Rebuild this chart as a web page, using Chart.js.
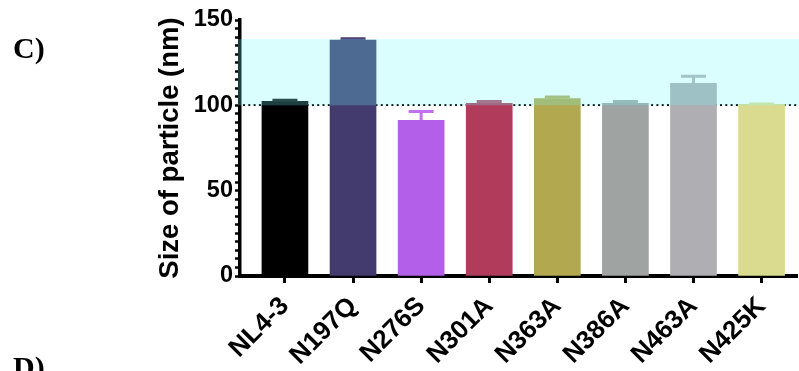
<!DOCTYPE html>
<html>
<head>
<meta charset="utf-8">
<script src="https://cdn.jsdelivr.net/npm/chart.js@4.4.1/dist/chart.umd.min.js"></script>
<style>
  html, body { margin: 0; padding: 0; background: #fff; overflow: hidden; }
  #wrap { position: relative; width: 799px; height: 371px; }
  #chart { position: absolute; left: 0; top: 0; }
  .panel { position: absolute; font-family: "Liberation Serif", "DejaVu Serif", serif;
           font-weight: bold; font-size: 30px; line-height: 30px; color: #000; }
</style>
</head>
<body>
<div id="wrap">
  <canvas id="chart" width="799" height="371"></canvas>
  <div class="panel" style="left:13px; top:33px;">C)</div>
  <div class="panel" style="left:13px; top:352px;">D)</div>
</div>
<script>
// Particle size per Env glycan mutant (mean with SEM, nm)
const categories = ['NL4-3', 'N197Q', 'N276S', 'N301A', 'N363A', 'N386A', 'N463A', 'N425K'];
const meanSize = [102.4, 138.2, 91.2, 101.2, 103.9, 101.2, 112.9, 100.6];
const semSize = [1.1, 1.4, 5.7, 1.6, 1.6, 1.6, 4.7, 0.8];
const yTickLabels = [0, 50, 100, 150];
const referenceSize = 100;
const rangeTop = 138.8;

const barColors = ['#000000', '#433a6e', '#b35fea', '#b13b5b', '#b2a84f', '#9fa3a2', '#afaeb3', '#dadb8e'];
const capColors = ['#111111', '#4a4078', '#c070f0', '#b54a68', '#b6ad5c', '#a3a7a7', '#b3b2b7', '#dde095'];

const FONT = '"Liberation Sans", Arial, sans-serif';

// dotted reference line, drawn behind the bars
const refLinePlugin = {
  id: 'refLine',
  beforeDatasetsDraw(chart) {
    const { ctx, chartArea, scales: { y } } = chart;
    const py = Math.round(y.getPixelForValue(referenceSize));
    ctx.save();
    ctx.strokeStyle = '#000';
    ctx.lineWidth = 2;
    ctx.setLineDash([2, 3.3]);
    ctx.beginPath();
    ctx.moveTo(chartArea.left + 3, py);
    ctx.lineTo(chart.width, py);
    ctx.stroke();
    ctx.restore();
  }
};

// upward SEM whiskers with caps
const errorBarPlugin = {
  id: 'errorBars',
  afterDatasetsDraw(chart) {
    const { ctx, scales: { y } } = chart;
    const meta = chart.getDatasetMeta(0);
    ctx.save();
    meta.data.forEach((bar, i) => {
      const yTop = y.getPixelForValue(meanSize[i] + semSize[i]);
      const yMean = y.getPixelForValue(meanSize[i]);
      ctx.strokeStyle = capColors[i];
      ctx.lineWidth = 3;
      ctx.lineCap = 'butt';
      ctx.beginPath();
      ctx.moveTo(bar.x, yMean);
      ctx.lineTo(bar.x, yTop);
      ctx.moveTo(bar.x - 12.5, yTop + 1);
      ctx.lineTo(bar.x + 12.5, yTop + 1);
      ctx.stroke();
    });
    ctx.restore();
  }
};

// translucent cyan range shading laid over everything
const rangeBandPlugin = {
  id: 'rangeBand',
  afterDraw(chart) {
    const { ctx, chartArea, scales: { y } } = chart;
    const y1 = y.getPixelForValue(rangeTop);
    const y0 = y.getPixelForValue(referenceSize);
    ctx.save();
    ctx.fillStyle = 'rgba(110, 251, 251, 0.255)';
    ctx.fillRect(chartArea.left - 2, y1, chart.width - chartArea.left + 2, y0 - y1);
    ctx.restore();
  }
};

new Chart(document.getElementById('chart'), {
  type: 'bar',
  data: {
    datasets: [{
      data: categories.map((c, i) => ({ x: i, y: meanSize[i] })),
      backgroundColor: barColors,
      borderWidth: 0,
      barThickness: 46
    }]
  },
  options: {
    responsive: false,
    animation: false,
    events: [],
    layout: { padding: { left: 150, top: 20, right: 2, bottom: 0 } },
    plugins: { legend: { display: false }, tooltip: { enabled: false } },
    scales: {
      x: {
        type: 'linear',
        offset: false,
        min: -0.66,
        max: 7.52,
        afterBuildTicks(scale) {
          scale.ticks = categories.map((c, i) => ({ value: i }));
        },
        afterFit(scale) { scale.height = 95; },
        ticks: {
          autoSkip: false,
          minRotation: 45,
          maxRotation: 45,
          padding: 8,
          color: '#000',
          font: { family: FONT, size: 26, weight: 'bold' },
          callback: (v) => categories[v] ?? ''
        },
        grid: { offset: false, drawOnChartArea: false, drawTicks: true, tickLength: 7, tickWidth: 3, tickColor: '#000' },
        border: { display: true, color: '#000', width: 4 }
      },
      y: {
        min: 0,
        max: 150,
        afterFit(scale) { scale.width = 90; },
        ticks: {
          stepSize: 5,
          autoSkip: false,
          padding: 2,
          color: '#000',
          font: { family: FONT, size: 23.5, weight: 'bold' },
          callback: (v) => yTickLabels.includes(v) ? String(v) : ''
        },
        grid: { drawOnChartArea: false, drawTicks: true, tickLength: 5, tickWidth: 2.5, tickColor: '#000' },
        border: { display: true, color: '#000', width: 3.5 },
        title: {
          display: true,
          text: 'Size of particle (nm)',
          color: '#000',
          font: { family: FONT, size: 27.5, weight: 'bold' },
          padding: { top: 4, bottom: 2 }
        }
      }
    }
  },
  plugins: [refLinePlugin, errorBarPlugin, rangeBandPlugin]
});
</script>
</body>
</html>
